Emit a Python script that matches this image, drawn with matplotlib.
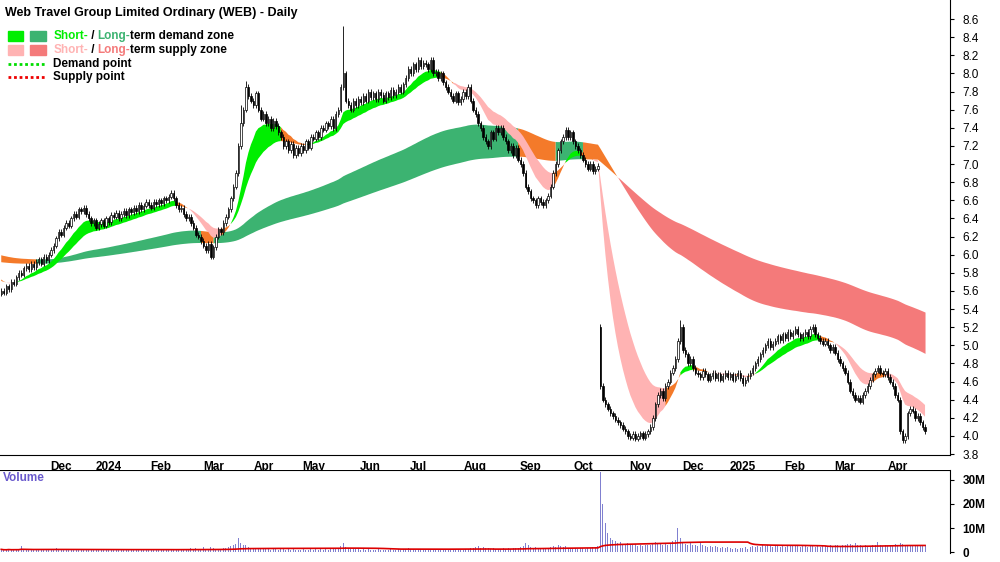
import numpy as np
import pandas as pd
import matplotlib
matplotlib.use("Agg")
import matplotlib.pyplot as plt
from matplotlib.patches import Rectangle

plt.rcParams['font.family'] = ['Liberation Sans', 'DejaVu Sans']

# daily closes
closes = [
    5.60, 5.58, 5.65, 5.62, 5.70, 5.68, 5.75, 5.80, 5.78, 5.85,
    5.88, 5.84, 5.90, 5.86, 5.92, 5.95, 5.90, 5.98, 5.94, 6.00,
    6.05, 6.10, 6.18, 6.25, 6.22, 6.30, 6.35, 6.32, 6.40, 6.45,
    6.42, 6.50, 6.48, 6.52, 6.45, 6.40, 6.35, 6.38, 6.30, 6.34,
    6.38, 6.32, 6.40, 6.36, 6.44, 6.42, 6.46, 6.40, 6.45, 6.48,
    6.44, 6.50, 6.47, 6.52, 6.48, 6.55, 6.50, 6.54, 6.58, 6.55,
    6.52, 6.58, 6.56, 6.60, 6.57, 6.62, 6.60, 6.64, 6.68, 6.62,
    6.55, 6.50, 6.52, 6.45, 6.40, 6.42, 6.35, 6.30, 6.22, 6.20,
    6.15, 6.10, 6.05, 6.12, 5.98, 6.08, 6.20, 6.28, 6.25, 6.35,
    6.42, 6.50, 6.62, 6.75, 6.90, 7.20, 7.45, 7.60, 7.85, 7.75,
    7.70, 7.65, 7.78, 7.60, 7.50, 7.55, 7.45, 7.50, 7.40, 7.48,
    7.42, 7.35, 7.30, 7.20, 7.25, 7.15, 7.22, 7.10, 7.18, 7.12,
    7.20, 7.15, 7.25, 7.18, 7.30, 7.28, 7.35, 7.30, 7.40, 7.38,
    7.45, 7.42, 7.50, 7.40, 7.55, 7.60, 7.85, 8.00, 7.70, 7.65,
    7.60, 7.70, 7.65, 7.72, 7.68, 7.75, 7.70, 7.80, 7.74, 7.78,
    7.72, 7.80, 7.76, 7.70, 7.78, 7.74, 7.82, 7.76, 7.80, 7.85,
    7.80, 7.88, 7.95, 8.05, 8.00, 8.10, 8.05, 8.15, 8.08, 8.12,
    8.10, 8.05, 8.15, 8.00, 8.02, 7.95, 8.00, 7.90, 7.85, 7.80,
    7.75, 7.70, 7.78, 7.68, 7.72, 7.80, 7.75, 7.85, 7.70, 7.60,
    7.55, 7.45, 7.40, 7.30, 7.25, 7.20, 7.35, 7.28, 7.40, 7.35,
    7.40, 7.30, 7.25, 7.15, 7.20, 7.10, 7.18, 7.05, 7.00, 6.90,
    6.75, 6.70, 6.62, 6.60, 6.55, 6.62, 6.58, 6.55, 6.60, 6.65,
    6.75, 6.90, 7.00, 7.15, 7.25, 7.30, 7.38, 7.30, 7.35, 7.25,
    7.20, 7.15, 7.10, 7.05, 7.00, 6.95, 7.00, 6.92, 6.95, 6.98,
    4.55, 4.40, 4.35, 4.30, 4.25, 4.22, 4.18, 4.15, 4.12, 4.08,
    4.05, 4.00, 3.98, 4.02, 3.97, 4.00, 4.03, 3.98, 4.02, 4.05,
    4.10, 4.20, 4.35, 4.45, 4.50, 4.42, 4.55, 4.60, 4.70, 4.75,
    4.85, 5.05, 5.20, 4.95, 4.90, 4.80, 4.85, 4.75, 4.70, 4.68,
    4.65, 4.72, 4.68, 4.62, 4.66, 4.70, 4.64, 4.68, 4.62, 4.66,
    4.70, 4.65, 4.68, 4.62, 4.66, 4.70, 4.64, 4.58, 4.62, 4.66,
    4.70, 4.75, 4.80, 4.85, 4.90, 4.95, 5.00, 5.05, 4.98, 5.02,
    5.05, 5.10, 5.06, 5.12, 5.08, 5.15, 5.10, 5.14, 5.18, 5.12,
    5.08, 5.12, 5.15, 5.10, 5.18, 5.20, 5.12, 5.08, 5.05, 5.02,
    5.05, 5.00, 4.95, 4.98, 4.92, 4.85, 4.80, 4.75, 4.70, 4.60,
    4.50, 4.45, 4.40, 4.42, 4.38, 4.45, 4.50, 4.55, 4.62, 4.68,
    4.72, 4.75, 4.70, 4.68, 4.72, 4.65, 4.60, 4.55, 4.45, 4.40,
    4.05, 3.95, 4.00, 4.25, 4.30, 4.28, 4.20, 4.22, 4.15, 4.10,
    4.05,
]
# notable opens / highs that differ from the plain pattern
open_override = {240: 5.20}
high_override = {137: 8.52, 272: 5.28, 96: 7.65, 98: 7.92}
# zone levels before the first bar (the averages were already running)
seed_short = 5.75
seed_long = 6.0

# daily volume, millions
volumes = [
    1.2, 0.9, 1.0, 1.4, 0.8, 1.1, 0.9, 1.3, 2.5, 1.0,
    0.9, 1.2, 0.8, 1.0, 1.1, 0.9, 1.3, 0.8, 1.0, 1.2,
    1.5, 1.1, 1.8, 1.4, 0.9, 1.2, 1.0, 1.3, 1.1, 0.9,
    1.0, 1.4, 0.8, 1.2, 1.0, 0.9, 1.1, 1.3, 0.8, 1.0,
    1.2, 0.9, 1.0, 1.1, 0.8, 1.2, 1.0, 0.9, 1.3, 1.0,
    0.8, 1.1, 0.9, 1.2, 1.0, 0.8, 1.1, 1.4, 0.9, 1.0,
    1.2, 0.9, 1.1, 1.0, 0.8, 1.3, 1.0, 1.2, 1.5, 1.0,
    1.3, 1.1, 0.9, 1.2, 1.4, 1.0, 1.6, 1.2, 1.8, 1.3,
    1.5, 2.0, 1.4, 1.2, 2.2, 1.6, 1.3, 1.1, 1.4, 1.7,
    1.9, 2.2, 2.5, 3.0, 3.5, 6.0, 4.0, 3.2, 2.8, 2.0,
    1.8, 1.5, 1.9, 1.6, 1.4, 1.3, 1.5, 1.2, 1.1, 1.4,
    1.2, 1.0, 1.3, 1.5, 1.1, 1.2, 1.0, 1.4, 1.1, 0.9,
    1.0, 1.2, 1.1, 0.9, 1.3, 1.0, 1.2, 1.1, 1.4, 1.0,
    1.2, 1.1, 1.5, 1.3, 1.6, 1.8, 2.5, 4.0, 2.2, 1.6,
    1.4, 1.3, 1.5, 1.2, 1.1, 1.3, 1.0, 1.2, 1.1, 1.0,
    0.9, 1.2, 1.0, 1.1, 0.9, 1.0, 1.3, 1.1, 0.9, 1.2,
    1.0, 1.3, 1.4, 1.6, 1.2, 1.5, 1.1, 1.4, 1.2, 1.0,
    1.1, 1.3, 1.2, 1.0, 0.9, 1.2, 1.1, 1.3, 1.2, 1.0,
    1.4, 1.5, 1.2, 1.3, 1.1, 1.0, 1.2, 1.4, 1.6, 1.8,
    2.0, 2.4, 1.8, 2.2, 1.6, 1.9, 1.5, 1.7, 1.4, 1.3,
    1.5, 1.6, 1.4, 1.8, 1.5, 1.7, 1.6, 1.9, 2.1, 2.6,
    4.0, 2.8, 2.2, 1.8, 2.0, 1.6, 1.5, 1.7, 1.4, 1.6,
    2.0, 2.5, 2.2, 2.8, 2.4, 2.0, 2.6, 1.8, 1.6, 1.9,
    1.7, 1.5, 1.8, 1.6, 1.4, 1.9, 1.7, 2.2, 2.0, 2.4,
    33.0, 20.0, 12.0, 8.0, 6.0, 5.0, 4.5, 3.8, 4.2, 3.5,
    3.2, 3.8, 3.0, 2.8, 3.4, 2.6, 3.0, 2.5, 2.8, 3.2,
    3.0, 3.6, 4.2, 3.8, 3.4, 2.9, 3.6, 3.2, 3.8, 4.5,
    5.0, 10.0, 6.0, 4.2, 3.5, 3.0, 3.8, 2.8, 3.2, 2.6,
    4.0, 2.8, 2.5, 2.2, 2.6, 2.0, 2.4, 2.2, 1.8, 2.0,
    1.6, 2.2, 1.8, 1.5, 1.7, 1.4, 1.9, 1.6, 2.0, 1.5,
    2.2, 2.4, 2.0, 2.6, 2.2, 2.8, 2.4, 3.0, 2.6, 2.2,
    2.5, 2.8, 2.3, 2.6, 2.2, 2.9, 2.4, 2.6, 3.0, 2.5,
    2.2, 2.6, 2.4, 2.1, 2.8, 2.5, 2.3, 2.6, 2.2, 2.4,
    2.6, 2.3, 2.8, 2.5, 2.9, 3.0, 2.6, 3.2, 2.8, 3.4,
    3.6, 3.2, 4.0, 3.0, 2.8, 2.6, 3.0, 2.4, 2.6, 2.8,
    3.0, 4.2, 3.0, 2.6, 2.8, 2.5, 2.9, 3.2, 3.6, 3.0,
    3.8, 3.4, 2.8, 3.2, 3.0, 2.8, 2.6, 3.0, 2.7, 2.5,
    2.8,
]

holidays = ["2023-12-25", "2023-12-26", "2024-01-01", "2024-01-26", "2024-03-29",
            "2024-04-01", "2024-04-25", "2024-06-10", "2024-12-25", "2024-12-26",
            "2025-01-01", "2025-01-27"]
dates = pd.bdate_range("2023-10-30", periods=len(closes), freq="C", holidays=holidays)

closes = np.array(closes)
n = len(closes)
x = np.arange(n)
opens = np.r_[closes[0] - 0.03, closes[:-1]]
for k, v in open_override.items():
    opens[k] = v
highs = np.maximum(opens, closes) + 0.03
lows = np.minimum(opens, closes) - 0.03
for k, v in high_override.items():
    highs[k] = v


def ema(span, seed):
    a = 2 / (span + 1)
    out = np.empty(n)
    prev = seed
    for i, c in enumerate(closes):
        prev = prev + a * (c - prev)
        out[i] = prev
    return out


st_fast = ema(12, seed_short)
st_slow = ema(24, seed_short - 0.03)
lt_fast = ema(120, seed_long)
lt_slow = ema(220, seed_long - 0.08)

fig = plt.figure(figsize=(10, 5.62), dpi=100)
ax = fig.add_axes([0, 1 - 455 / 562, 0.95, 455 / 562])
axv = fig.add_axes([0, 9 / 562, 0.95, 83 / 562])


def draw_zone(a, b, up_col, down_col, mid_col, z):
    slope = np.gradient(b)
    state = np.where((a > b) & (slope > 0), 0, np.where((a < b) & (slope < 0), 1, 2))
    cols = [up_col, down_col, mid_col]
    for st in range(3):
        m = state == st
        m = m | np.r_[False, m[:-1]]
        ax.fill_between(x, a, b, where=m, color=cols[st], lw=0, zorder=z)


draw_zone(lt_fast, lt_slow, "#3cb371", "#f47a7a", "#f47a2a", 1)
draw_zone(st_fast, st_slow, "#00ee00", "#ffb3b3", "#f47a2a", 2)

# candles
ax.vlines(x, lows, highs, color="black", lw=0.6, zorder=3)
up = closes >= opens
bot = np.minimum(opens, closes)
ht = np.maximum(np.abs(closes - opens), 0.01)
ax.bar(x[up], ht[up], 0.55, bot[up], color="white", edgecolor="black", lw=0.5, zorder=4)
ax.bar(x[~up], ht[~up], 0.55, bot[~up], color="black", edgecolor="black", lw=0.5, zorder=4)

xmax = 950 / 2.5
ax.set_xlim(-0.5, xmax)
ax.set_ylim(3.79, 8.81)
ax.yaxis.tick_right()
ax.set_yticks(np.arange(3.8, 8.61, 0.2))
ax.set_yticklabels([f"{v:.1f}" for v in np.arange(3.8, 8.61, 0.2)], fontsize=8.5)

# month ticks (skip the partial first month)
mpos, mlab = [], []
prev = dates[0].month
for i, d in enumerate(dates):
    if d.month != prev and i > 10:
        mpos.append(i)
        mlab.append(str(d.year) if d.month == 1 else d.strftime("%b"))
    prev = d.month
ax.set_xticks(mpos)
ax.set_xticklabels(mlab, fontsize=8.5, fontweight="bold", ha="center")
ax.tick_params(axis="x", length=0, pad=4)
ax.tick_params(axis="y", length=3, pad=6)
for sp in ["top", "left"]:
    ax.spines[sp].set_visible(False)

# title and legend
ax.text(0.005, 0.985, "Web Travel Group Limited Ordinary (WEB) - Daily", transform=ax.transAxes,
        fontsize=9, fontweight="bold", va="top")
rows = [("#00ee00", "#3cb371", "Short-", "Long-", "term demand zone"),
        ("#ffb3b3", "#f47a7a", "Short-", "Long-", "term supply zone")]
for r, (c1, c2, t1, t2, t3) in enumerate(rows):
    yy = 0.92 - r * 0.03
    ax.add_patch(Rectangle((0.008, yy - 0.011), 0.016, 0.022, transform=ax.transAxes, color=c1, zorder=5))
    ax.add_patch(Rectangle((0.032, yy - 0.011), 0.016, 0.022, transform=ax.transAxes, color=c2, zorder=5))
    tx = ax.text(0.056, yy, t1, transform=ax.transAxes, color=c1, fontsize=8.5, fontweight="bold", va="center")
    tx = ax.annotate(" / ", xycoords=tx, xy=(1, 0), va="bottom", fontsize=8.5, fontweight="bold")
    tx = ax.annotate(t2, xycoords=tx, xy=(1, 0), va="bottom", fontsize=8.5, fontweight="bold", color=c2)
    ax.annotate(t3, xycoords=tx, xy=(1, 0), va="bottom", fontsize=8.5, fontweight="bold")
for r, (c, t) in enumerate([("#00dd00", "Demand point"), ("#ee0000", "Supply point")]):
    yy = 0.86 - r * 0.03
    ax.plot([0.008, 0.048], [yy, yy], transform=ax.transAxes, color=c, lw=2, ls=(0, (1, 1)))
    ax.text(0.056, yy, t, transform=ax.transAxes, fontsize=8.5, fontweight="bold", va="center")

# volume panel
vol = np.array(volumes)
axv.bar(x, vol, 0.4, color="#8080d0", zorder=2)
vma = pd.Series(vol).rolling(60, min_periods=1).mean().values
axv.plot(x, vma, color="#dd0000", lw=1.2, zorder=3)
axv.set_xlim(-0.5, xmax)
axv.set_ylim(-0.3, 34.0)
axv.yaxis.tick_right()
axv.set_yticks([0, 10, 20, 30])
axv.set_yticklabels(["0", "10M", "20M", "30M"], fontsize=8.5, fontweight="bold")
axv.set_xticks([])
axv.tick_params(axis="y", length=3, pad=6)
for sp in ["top", "left", "bottom"]:
    axv.spines[sp].set_visible(False)
axv.text(0.003, 0.98, "Volume", transform=axv.transAxes, color="#6a5acd", fontsize=8.5,
         fontweight="bold", va="top")
axv.axhline(axv.get_ylim()[1], color="black", lw=0.8)

fig.savefig("out.png", dpi=100)
